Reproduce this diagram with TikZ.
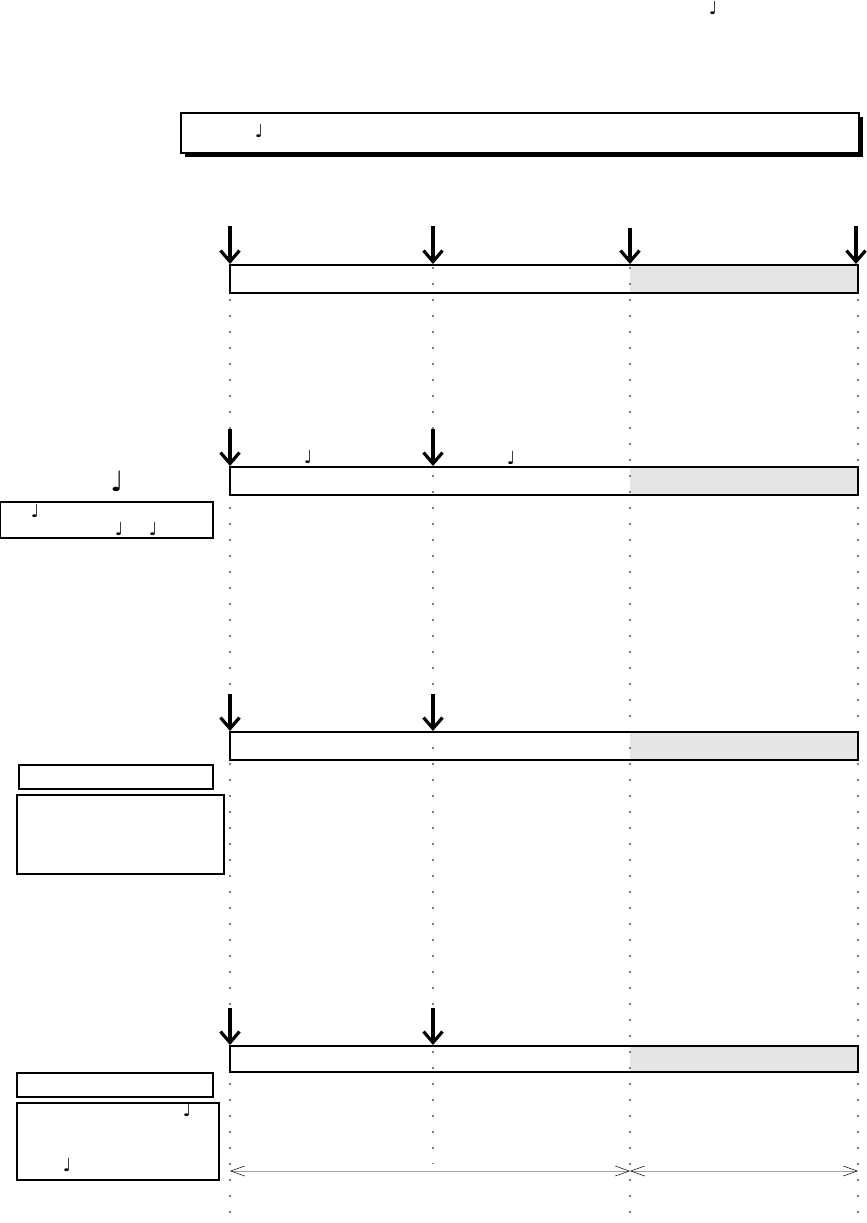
\documentclass[tikz,border=0pt]{standalone}
\usepackage{fontspec}
\newfontfamily\notefont{DejaVu Sans}
\usetikzlibrary{arrows.meta,fit}
\tikzset{
  box/.style={draw, line width=1.1pt, inner sep=0pt},
  shade/.style={fill=gray!20, draw=none, inner sep=0pt},
  guide/.style={draw=gray, line width=1.6pt, dash pattern=on 1.6pt off 14.4pt},
  bigarrow/.style={line width=3.4pt, -{Straight Barb[length=11pt,width=19pt,line width=3.2pt]}},
  span/.style={draw=gray!70, line width=1pt,
    {Straight Barb[length=14pt,width=10pt,color=black,line width=0.5pt]}-{Straight Barb[length=14pt,width=10pt,color=black,line width=0.5pt]}},
  note/.style={font=\notefont\bfseries\fontsize{18}{18}\selectfont, inner sep=0pt},
  bignote/.style={font=\notefont\bfseries\fontsize{28}{28}\selectfont, inner sep=0pt}
}
\begin{document}
\begin{tikzpicture}[x=1pt,y=-1pt]
\useasboundingbox (0,0) rectangle (867,1223);

% top note
\node[note] (n0) at (713,8) {♩};

% title box with shadow
\fill[black] (185,117) rectangle (863,157);
\node[box, fill=white, fit={(181,113)(859,153)}] (title) {};
\node[note] (n1) at (259,131) {♩};

% shaded parts of the lanes
\node[shade, fit={(630,265)(858,293)}] (g1) {};
\node[shade, fit={(630,467)(858,495)}] (g2) {};
\node[shade, fit={(630,732)(858,760)}] (g3) {};
\node[shade, fit={(630,1046)(858,1072)}] (g4) {};

% dotted guide lines
\coordinate (v1t) at (230,267); \coordinate (v1b) at (230,1223);
\coordinate (v2t) at (433,267); \coordinate (v2b) at (433,1164);
\coordinate (v3t) at (630,267); \coordinate (v3b) at (630,1223);
\coordinate (v4t) at (858,267); \coordinate (v4b) at (858,1223);
\draw[guide] (v1t) -- (v1b);
\draw[guide] (v2t) -- (v2b);
\draw[guide] (v3t) -- (v3b);
\draw[guide] (v4t) -- (v4b);

% lane boxes
\node[box, fit={(230,265)(858,293)}] (lane1) {};
\node[box, fit={(230,467)(858,495)}] (lane2) {};
\node[box, fit={(230,732)(858,760)}] (lane3) {};
\node[box, fit={(230,1046)(858,1072)}] (lane4) {};

% lane 1 arrows
\coordinate (a11) at (230,226); \coordinate (b11) at (230,264);
\coordinate (a12) at (433,226); \coordinate (b12) at (433,264);
\coordinate (a13) at (630,228); \coordinate (b13) at (630,264);
\coordinate (a14) at (856,226); \coordinate (b14) at (856,264);
\draw[bigarrow] (a11) -- (b11);
\draw[bigarrow] (a12) -- (b12);
\draw[bigarrow] (a13) -- (b13);
\draw[bigarrow] (a14) -- (b14);

% lane 2 arrows
\coordinate (a21) at (230,429); \coordinate (b21) at (230,466);
\coordinate (a22) at (433,429); \coordinate (b22) at (433,466);
\draw[bigarrow] (a21) -- (b21);
\draw[bigarrow] (a22) -- (b22);
\node[note] (n21) at (308,457) {♩};
\node[note] (n22) at (511,458) {♩};

% lane 2 left
\node[bignote] (n23) at (117,481) {♩};
\node[box, fit={(0,502)(213,538)}] (l2box) {};
\node[note] (n24) at (35,511) {♩};
\node[note] (n25) at (119,529) {♩};
\node[note] (n26) at (153,529) {♩};

% lane 3 arrows
\coordinate (a31) at (230,694); \coordinate (b31) at (230,731);
\coordinate (a32) at (433,694); \coordinate (b32) at (433,731);
\draw[bigarrow] (a31) -- (b31);
\draw[bigarrow] (a32) -- (b32);
\node[box, fit={(19,765)(213,789)}] (l3a) {};
\node[box, fit={(17,795)(224,874)}] (l3b) {};

% lane 4 arrows
\coordinate (a41) at (230,1008); \coordinate (b41) at (230,1045);
\coordinate (a42) at (433,1008); \coordinate (b42) at (433,1045);
\draw[bigarrow] (a41) -- (b41);
\draw[bigarrow] (a42) -- (b42);
\node[box, fit={(17,1073)(213,1097)}] (l4a) {};
\node[box, fit={(17,1103)(219,1180)}] (l4b) {};
\node[note] (n41) at (187,1110) {♩};
\node[note] (n42) at (67,1165) {♩};

% bottom spans
\coordinate (s1) at (230,1171);
\coordinate (s2) at (630,1171);
\coordinate (s3) at (858,1171);
\draw[span] (s1) -- (s2);
\draw[span] (s2) -- (s3);
\end{tikzpicture}
\end{document}
